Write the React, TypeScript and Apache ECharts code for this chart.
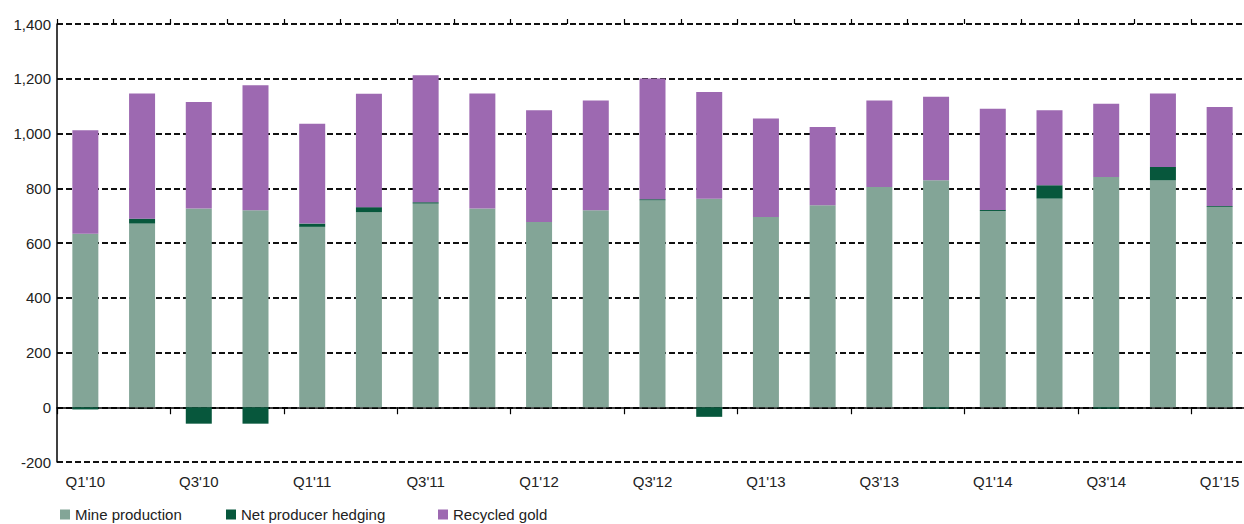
import React, { useEffect, useRef } from "react";
import * as echarts from "echarts";

const categories = [
  "Q1'10", "Q2'10", "Q3'10", "Q4'10",
  "Q1'11", "Q2'11", "Q3'11", "Q4'11",
  "Q1'12", "Q2'12", "Q3'12", "Q4'12",
  "Q1'13", "Q2'13", "Q3'13", "Q4'13",
  "Q1'14", "Q2'14", "Q3'14", "Q4'14",
  "Q1'15",
];
const mineProduction = [634, 671, 726, 720, 659, 713, 744, 726, 677, 720, 756, 762, 695, 738, 805, 829, 717, 762, 841, 829, 732];
const netProducerHedging = [-8, 18, -60, -60, 12, 18, 5, 0, 0, 0, 4, -35, 0, 0, 0, -5, 4, 49, -5, 49, 3];
const recycledGold = [378, 457, 389, 456, 365, 414, 464, 420, 408, 401, 441, 390, 360, 286, 316, 305, 369, 274, 268, 268, 362];
const yTicks = { min: -200, max: 1400, interval: 200 };

const FONT = "'Liberation Sans', Arial, sans-serif";
const COLORS = ["#83a597", "#07573c", "#9d69b1"];
const NAMES = ["Mine production", "Net producer hedging", "Recycled gold"];

export default function App() {
  const ref = useRef<HTMLDivElement>(null);
  useEffect(() => {
    const chart = echarts.init(ref.current!, null, { renderer: "svg" });
    const legendLefts = [60, 226, 438];
    chart.setOption({
      animation: false,
      textStyle: { fontFamily: FONT },
      grid: { left: 57, right: -4, top: 24, bottom: 62, containLabel: false, outerBoundsMode: "none" },
      legend: NAMES.map((n, i) => ({
        data: [n],
        left: legendLefts[i],
        bottom: 0,
        padding: [0, 0, 2, 0],
        itemWidth: 10,
        itemHeight: 10,
        itemGap: 0,
        icon: "rect",
        textStyle: { fontFamily: FONT, fontSize: 15, color: "#222" },
      })),
      xAxis: [
        {
          type: "category",
          data: categories,
          position: "bottom",
          axisLine: { onZero: true, lineStyle: { color: "#000", width: 1.5 } },
          axisTick: { show: true, length: 7, lineStyle: { color: "#000", width: 1.2 } },
          axisLabel: { interval: 1, margin: 12, fontFamily: FONT, fontSize: 15, color: "#222" },
          splitLine: { show: false },
        },
        {
          type: "category",
          data: categories,
          position: "top",
          axisLine: { show: false, onZero: true },
          axisTick: { show: true, length: 5, lineStyle: { color: "#000", width: 1.2 } },
          axisLabel: { show: false },
          splitLine: { show: false },
        },
      ],
      yAxis: {
        type: "value",
        min: yTicks.min,
        max: yTicks.max,
        interval: yTicks.interval,
        axisLine: { show: true, lineStyle: { color: "#000", width: 1.5 } },
        axisTick: { show: false },
        axisLabel: {
          margin: 6,
          fontFamily: FONT,
          fontSize: 15,
          color: "#222",
          formatter: (v: number) => v.toLocaleString("en-US"),
        },
        splitLine: { show: true, lineStyle: { color: "#111", width: 2, type: [6, 3] } },
      },
      series: [mineProduction, netProducerHedging, recycledGold].map((d, i) => ({
        name: NAMES[i],
        type: "bar",
        stack: "total",
        barWidth: 26,
        data: d,
        itemStyle: { color: COLORS[i] },
      })),
    });
    return () => chart.dispose();
  }, []);
  return (
    <div
      ref={ref}
      style={{ position: "absolute", left: 0, top: 0, width: 1244, height: 524 }}
    />
  );
}
